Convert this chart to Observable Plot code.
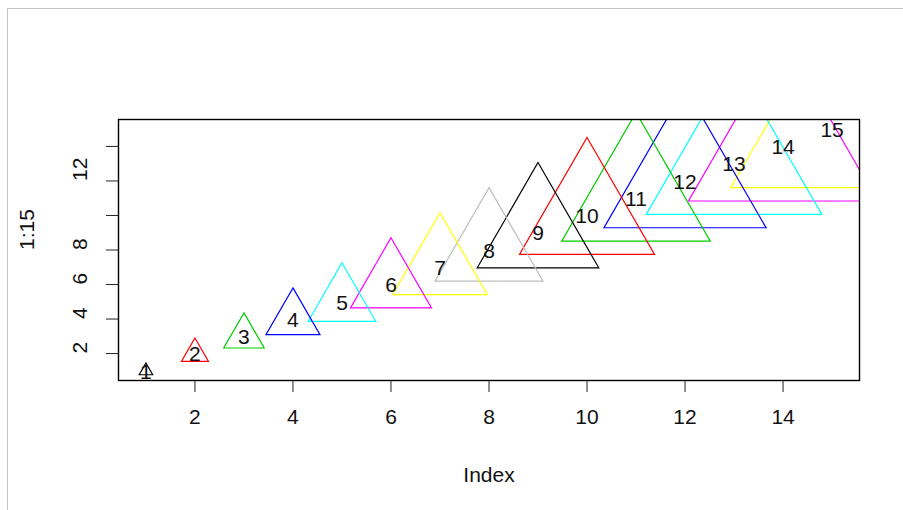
<!DOCTYPE html>
<html><head><meta charset="utf-8">
<script src="https://cdn.jsdelivr.net/npm/d3@7"></script>
<script src="https://cdn.jsdelivr.net/npm/@observablehq/plot@0.6"></script>
<style>
html,body{margin:0;padding:0;background:#fff;}
#wrap{position:relative;width:903px;height:510px;overflow:hidden;}
#border{position:absolute;left:7px;top:8px;right:-10px;bottom:-10px;border-left:1px solid #c4c4c4;border-top:1px solid #c4c4c4;}
#chart{position:absolute;left:0;top:0;}
</style></head><body>
<div id="wrap"><div id="border"></div><div id="chart"></div></div>
<script>
// Data: plot(1:15, pch = 2, cex = 1:15, col = 1:15); text(1:15, labels = 1:15)
const index = [1,2,3,4,5,6,7,8,9,10,11,12,13,14,15];
const values = [1,2,3,4,5,6,7,8,9,10,11,12,13,14,15];
const cexs = [1,2,3,4,5,6,7,8,9,10,11,12,13,14,15];
const labels = ["1","2","3","4","5","6","7","8","9","10","11","12","13","14","15"];
const colors = ["black","red","#00CD00","blue","cyan","magenta","yellow","#BEBEBE",
                "black","red","#00CD00","blue","cyan","magenta","yellow"];
const xTicks = [2,4,6,8,10,12,14];
const yTicks = [2,4,6,8,10,12,14];
const yTickLabels = ["2","4","6","8","","12",""];
const xTitle = "Index";
const yTitle = "1:15";

const data = index.map((x, i) => ({x, y: values[i], cex: cexs[i], color: colors[i], label: labels[i]}));
const font = "'Liberation Sans', Arial, sans-serif";
const fs = 21;

const chart = Plot.plot({
  width: 903, height: 510,
  marginLeft: 118, marginRight: 44, marginTop: 119, marginBottom: 130,
  style: {fontFamily: font, fontSize: fs + "px", background: "transparent", overflow: "visible", color: "black"},
  x: {domain: [0.44, 15.56]},
  y: {domain: [0.44, 15.56]},
  r: {type: "linear", domain: [0, 15], range: [0, 75.2]},
  color: {type: "identity"},
  marks: [
    Plot.dot(data, {x: "x", y: "y", r: "cex", symbol: "triangle", stroke: "color", fill: "none", strokeWidth: 1.2, clip: "frame"}),
    Plot.text(data, {x: "x", y: "y", text: "label", fill: "#111", fontSize: fs, dy: 1}),
    Plot.frame({stroke: "black", strokeWidth: 1.4}),
    Plot.axisX({ticks: xTicks, tickSize: 12, tickPadding: 17, label: null, fontSize: fs, stroke: "#222", fill: "#111"}),
    Plot.axisY({ticks: yTicks, tickSize: 12, tickFormat: () => "", label: null, stroke: "#222"}),
    Plot.text(yTicks, {y: d => d, text: (d, i) => yTickLabels[i], frameAnchor: "left", dx: -38, rotate: -90, fontSize: fs, fill: "#111"}),
    Plot.text([xTitle], {text: d => d, frameAnchor: "bottom", dy: 101, fontSize: fs, fill: "#111"}),
    Plot.text([yTitle], {text: d => d, frameAnchor: "left", dx: -91, rotate: -90, fontSize: fs, fill: "#111"})
  ]
});
document.getElementById("chart").appendChild(chart);
</script>
</body></html>
